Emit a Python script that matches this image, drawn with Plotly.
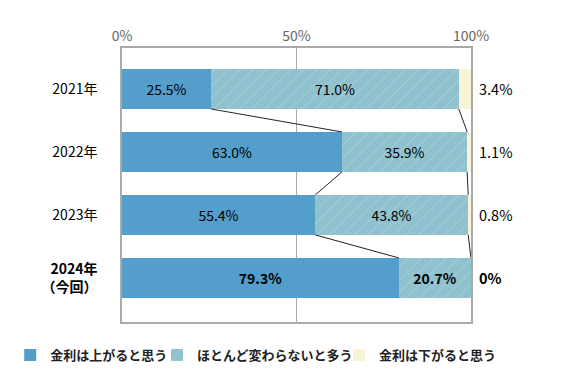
import plotly.graph_objects as go

years = ["2021年", "2022年", "2023年", "<b>2024年<br>（今回）</b>"]
series_names = ["金利は上がると思う", "ほとんど変わらないと多う", "金利は下がると思う"]
up = [25.5, 63.0, 55.4, 79.3]
same = [71.0, 35.9, 43.8, 20.7]
down = [3.4, 1.1, 0.8, 0.0]
x_ticks = [0, 50, 100]
x_tick_labels = ["0%", "50%", "100%"]

colors = ["#539ECB", "#8FC2CE", "#F8F5D6"]
FONT = "Noto Sans CJK JP"
ypos = list(range(len(years)))
bold = [False, False, False, True]
BW = 0.635
legend_names = ["legend", "legend2", "legend3"]
legend_x = [0.0040, 0.2694, 0.5985]


def fmt(v, b):
    s = "0%" if v == 0 else f"{v:.1f}%"
    return f"<b>{s}</b>" if b else s


fig = go.Figure()
fig.add_trace(go.Bar(
    y=ypos, x=up, orientation="h", name=series_names[0], width=BW, legend=legend_names[0],
    marker=dict(color=colors[0], line=dict(width=0)),
    text=[fmt(v, b) for v, b in zip(up, bold)], textposition="inside",
    insidetextanchor="middle", textfont=dict(color="black", size=14, family=FONT),
    hoverinfo="skip"))
fig.add_trace(go.Bar(
    y=ypos, x=same, orientation="h", name=series_names[1], width=BW, legend=legend_names[1],
    marker=dict(color=colors[1], line=dict(width=0),
                pattern=dict(shape="/", fgcolor="white", fgopacity=0.35, size=9, solidity=0.08)),
    text=[fmt(v, b) for v, b in zip(same, bold)], textposition="inside",
    insidetextanchor="middle", textfont=dict(color="black", size=14, family=FONT),
    hoverinfo="skip"))
fig.add_trace(go.Bar(
    y=ypos, x=down, orientation="h", name=series_names[2], width=BW, legend=legend_names[2],
    marker=dict(color=colors[2], line=dict(width=0)),
    textposition="none", hoverinfo="skip"))

# outside labels for the third series
for i, (v, b) in enumerate(zip(down, bold)):
    fig.add_annotation(x=100, y=i, xref="x", yref="y", text=fmt(v, b),
                       showarrow=False, xanchor="left", xshift=6,
                       font=dict(color="black", size=14.5, family=FONT))

# connector lines between bars
b1 = up
b2 = [u + s for u, s in zip(up, same)]
for i in range(len(years) - 1):
    for b in (b1, b2):
        fig.add_shape(type="line", xref="x", yref="y",
                      x0=b[i], y0=i + BW / 2, x1=b[i + 1], y1=i + 1 - BW / 2,
                      line=dict(color="#222", width=1))

legend_common = dict(orientation="h", xref="container", xanchor="left",
                     yref="container", y=0.0697, yanchor="middle",
                     font=dict(size=13, family=FONT, weight="bold", color="#222"),
                     itemclick=False, itemdoubleclick=False, bgcolor="rgba(0,0,0,0)")

fig.update_layout(
    barmode="stack",
    width=553, height=373,
    margin=dict(l=114, r=90, t=40, b=59, autoexpand=False),
    plot_bgcolor="white", paper_bgcolor="white",
    font=dict(family=FONT, color="black", size=13),
    showlegend=True,
    legend=dict(x=legend_x[0], **legend_common),
    legend2=dict(x=legend_x[1], **legend_common),
    legend3=dict(x=legend_x[2], **legend_common),
    bargap=0,
)
fig.update_xaxes(range=[0, 100], side="top", tickvals=x_ticks, ticktext=x_tick_labels,
                 showgrid=True, gridcolor="#aaaaaa", gridwidth=1,
                 showline=True, linecolor="#aaaaaa", linewidth=1.5, mirror=True,
                 tickfont=dict(color="#666", size=14, family=FONT), ticks="", zeroline=False,
                 fixedrange=True)
fig.update_yaxes(range=[len(years) - 1 + 0.70, -0.65], tickvals=ypos, ticktext=years,
                 showgrid=False, showline=True, linecolor="#aaaaaa", linewidth=1.5, mirror=True,
                 tickfont=dict(color="black", size=14, family=FONT), ticks="",
                 ticklabelstandoff=20, zeroline=False, fixedrange=True)

fig.write_html("out.html", config={"displayModeBar": False})
